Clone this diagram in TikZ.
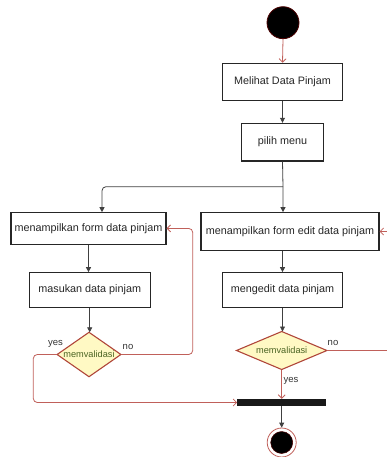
\documentclass[tikz,border=0pt]{standalone}
\usepackage{fontspec}
\setmainfont{Liberation Sans}
\usetikzlibrary{arrows.meta}
\definecolor{redline}{HTML}{C0605A}
\definecolor{dstroke}{HTML}{B0463A}
\definecolor{dfill}{HTML}{FFF9C4}
\definecolor{dtext}{HTML}{4A6322}
\definecolor{boxline}{HTML}{262626}
\begin{document}
\begin{tikzpicture}[x=1pt,y=-1pt,
  actbox/.style={draw=boxline, line width=1.1pt, rectangle, inner sep=0pt, fill=white,
    font=\fontsize{10.8}{13}\selectfont, text=black!85},
  decbox/.style={rectangle, inner sep=0pt, draw=none},
  dshape/.style={fill=dfill, draw=dstroke, line width=1.1pt, line join=miter},
  dlabel/.style={font=\fontsize{9.2}{11}\selectfont, text=dtext, inner sep=0pt},
  lbl/.style={font=\fontsize{9.5}{11}\selectfont, text=black!80, inner sep=0pt},
  flow/.style={draw=black!75, line width=0.8pt, -{Triangle[length=5pt,width=5pt]}},
  redflow/.style={draw=redline, line width=0.8pt, rounded corners=4pt, -{Straight Barb[length=3.5pt,width=7pt]}},
]
\useasboundingbox (0,0) rectangle (386,457);

% start
\node[circle, fill=black, draw=black!70!red, line width=0.8pt, minimum size=32pt, inner sep=0pt] (start) at (283,22.7) {};

% action boxes
\node[actbox, minimum width=119.6pt, minimum height=37.4pt] (melihat) at (282.5,82) {Melihat Data Pinjam};
\node[actbox, minimum width=82.4pt, minimum height=37.7pt] (pilih) at (282.5,142.2) {pilih menu};
\node[actbox, minimum width=155pt, minimum height=31.3pt] (lform) at (88.5,228.4) {menampilkan form data pinjam};
\node[actbox, minimum width=178pt, minimum height=37.6pt] (rform) at (290,231.5) {menampilkan form edit data pinjam};
\node[actbox, minimum width=120.7pt, minimum height=34.6pt] (masukan) at (89.7,290) {masukan data pinjam};
\node[actbox, minimum width=119.6pt, minimum height=34.6pt] (edit) at (282.5,290) {mengedit data pinjam};

% decisions
\node[decbox, minimum width=63.4pt, minimum height=44pt] (dl) at (89,354.5) {};
\filldraw[dshape] (dl.north) -- (dl.east) -- (dl.south) -- (dl.west) -- cycle;
\node[dlabel] (dltext) at (dl) {memvalidasi};
\node[decbox, minimum width=90pt, minimum height=37.6pt] (dr) at (281.7,350.5) {};
\filldraw[dshape] (dr.north) -- (dr.east) -- (dr.south) -- (dr.west) -- cycle;
\node[dlabel] (drtext) at (dr) {memvalidasi};

% join bar
\node[rectangle, fill=black!90, draw=none, minimum width=88.7pt, minimum height=7pt, inner sep=0pt] (bar) at (281.7,402.5) {};

% final
\node[circle, draw=redline, line width=0.8pt, fill=white, minimum size=29pt, inner sep=0pt] (final) at (281.7,442.5) {};
\fill[black, draw=black!70!red, line width=0.5pt] (final.center) circle (11pt);

% coordinates
\coordinate (fork) at (283,186.7);
\coordinate (lturn) at (102,186.7);
\coordinate (lnox) at (192.7,354.5);
\coordinate (lyesx) at (33.3,354.5);
\coordinate (rnox) at (400,350.5);

% connectors
\draw[redflow] (start.south) -- (melihat.north);
\draw[flow] (melihat.south) -- (pilih.north);
\draw[flow] (pilih.south) -- (fork) -- (fork |- rform.north);
\draw[flow, rounded corners=4pt] (fork) -- (lturn) -- (lturn |- lform.north);
\draw[flow] (lform.south) -- (lform.south |- masukan.north);
\draw[flow] (masukan.south) -- (masukan.south |- dl.north);
\draw[flow] (rform.south -| edit.south) -- (edit.north);
\draw[flow] (edit.south) -- (edit.south |- dr.north);
\draw[redflow] (dl.east) -- (lnox) |- (lform.east);
\draw[redflow] (dl.west) -- (lyesx) |- (bar.west);
\draw[redflow] (dr.east) -- (rnox) |- (rform.east);
\draw[redflow] (dr.south) -- (dr.south |- bar.north);
\draw[flow] (bar.south) -- (final.north);

% labels
\node[lbl] (yl) at (55.5,344) {yes};
\node[lbl] (nl) at (128,346.5) {no};
\node[lbl] (nr) at (333,343.3) {no};
\node[lbl] (yr) at (291,380.7) {yes};
\end{tikzpicture}
\end{document}
